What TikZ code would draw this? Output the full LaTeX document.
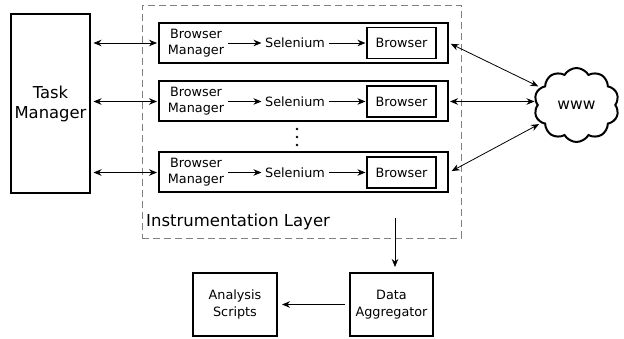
\documentclass[tikz,border=0pt]{standalone}
\usepackage{fontspec}
\setmainfont{DejaVu Sans}
\usetikzlibrary{arrows.meta, shapes.symbols, positioning}
\tikzstyle{block} = [draw=black, line width=2pt, inner sep=0pt, align=center, font=\fontsize{12.8}{16.5}\selectfont]
\tikzstyle{arrow} = [line width=0.8pt, -{Stealth[length=8pt,width=6.5pt]}]
\tikzstyle{biarrow} = [line width=0.8pt, {Stealth[length=8pt,width=6.5pt]}-{Stealth[length=8pt,width=6.5pt]}]

\begin{document}
\begin{tikzpicture}[
        x=1pt, y=-1pt,
        txt/.style={inner sep=3.5pt, align=center, font=\fontsize{12.8}{16}\selectfont},
        browser/.style={draw, line width=1.1pt, minimum width=69pt, minimum height=31pt, inner sep=0pt, font=\fontsize{12.8}{16}\selectfont}
    ]
        \useasboundingbox (0,0) rectangle (624,339);

        % Task manager and the layer around the browsers
        \node (taskmgr) [block, minimum width=79pt, minimum height=179pt, font=\fontsize{16.4}{20}\selectfont] at (50.5,103.5) {Task\\Manager};
        \node (layer) [draw=gray, dash pattern=on 7pt off 4pt, line width=0.8pt, minimum width=319pt, minimum height=233pt, inner sep=0pt] at (301.5,121.5) {};
        \node (layername) [anchor=base west, inner sep=0pt, font=\fontsize{16.5}{20}\selectfont] at (146,227) {Instrumentation Layer};

        % One row per browser
        \foreach \i/\y in {1/43, 2/101.5, 3/172.5} {
            \node (row\i) [block, minimum width=289pt, minimum height=40pt] at (303.5,\y) {};
            \node (mgr\i) [txt] at (196,\y) {Browser\\Manager};
            \node (sel\i) [txt] at (295,\y) {Selenium};
            \node (brw\i) [browser] at (401.5,\y) {Browser};
            \draw[arrow] (mgr\i) -- (sel\i);
            \draw[arrow, shorten >=1pt] (sel\i) -- (brw\i);
            \draw[biarrow, shorten <=2.5pt, shorten >=1pt] (taskmgr.east |- row\i) -- (row\i.west);
        }
        \foreach \d in {129,137,145} \fill (297,\d) circle (1.4pt);

        % The web
        \node (www) [cloud, draw, line width=2pt, cloud puffs=10, cloud puff arc=120, aspect=1.15, minimum width=85pt, minimum height=74pt, inner sep=0pt, font=\fontsize{15.5}{18}\selectfont] at (576.5,105) {www};
        \draw[biarrow, shorten <=2pt, shorten >=2pt] (row1.east) -- (www.154);
        \draw[biarrow, shorten <=1pt, shorten >=2pt] (row2.east) -- (www.west |- row2);
        \draw[biarrow, shorten <=3pt, shorten >=2pt] (row3.east) -- (www.207);

        % Collecting the data
        \coordinate (layerout) at (395,218);
        \node (agg) [block, minimum width=83pt, minimum height=63pt] at (391.5,304.5) {Data\\Aggregator};
        \node (scripts) [block, minimum width=84pt, minimum height=63pt] at (235,304.5) {Analysis\\Scripts};
        \draw[arrow, shorten >=5pt] (layerout) -- (layerout |- agg.north);
        \draw[arrow, shorten <=4pt, shorten >=4pt] (agg) -- (scripts);

    \end{tikzpicture}
\end{document}
